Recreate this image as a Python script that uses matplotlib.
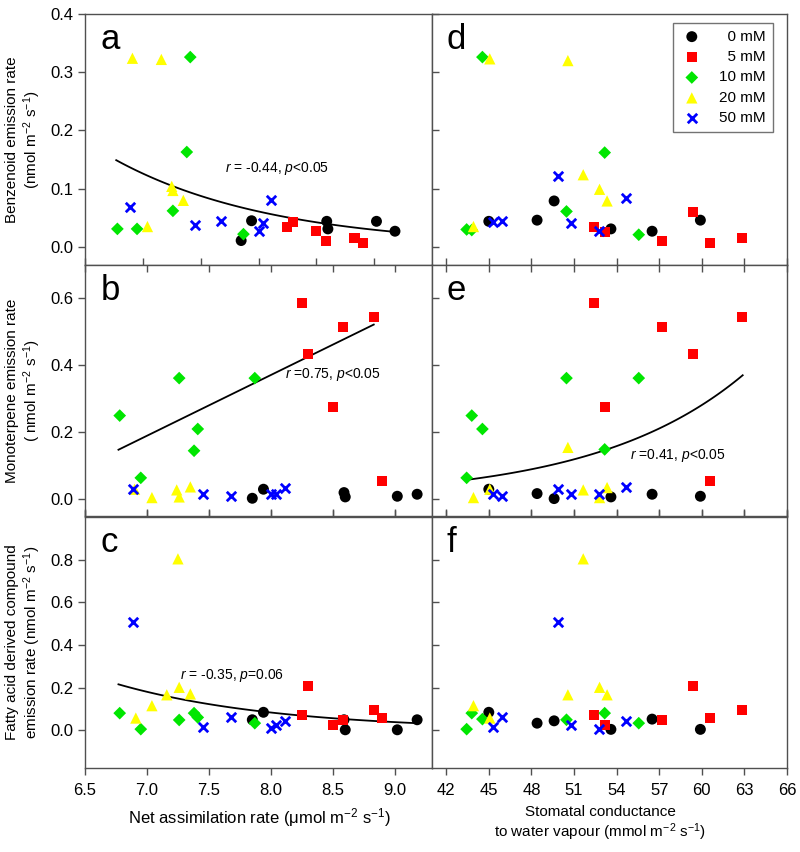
import numpy as np
import matplotlib
matplotlib.use('Agg')
import matplotlib.pyplot as plt

plt.rcParams['font.family'] = ['Liberation Sans', 'DejaVu Sans']
plt.rcParams['mathtext.fontset'] = 'custom'
plt.rcParams['mathtext.rm'] = 'Liberation Sans'
plt.rcParams['mathtext.it'] = 'Liberation Sans:italic'

groups = ['\u20070 mM', '\u20075 mM', '10 mM', '20 mM', '50 mM']

# net assimilation rate (x of left panels)
an_black = [7.85, 7.94, 8.59, 8.60, 9.02, 9.18]
an_red = [8.25, 8.30, 8.50, 8.58, 8.83, 8.90]
an_green = [6.78, 6.95, 7.26, 7.38, 7.41, 7.87]
an_yellow = [6.91, 7.04, 7.16, 7.25, 7.26, 7.35]
an_blue = [6.89, 7.45, 7.68, 8.00, 8.04, 8.11]

# stomatal conductance (x of right panels)
gs_black = [45.0, 48.4, 49.6, 53.6, 56.5, 59.9]
gs_red = [52.4, 53.2, 57.2, 59.4, 60.55, 62.85]
gs_green = [43.44, 43.8, 44.55, 50.47, 53.16, 55.56]
gs_yellow = [43.92, 45.07, 50.57, 51.65, 52.8, 53.33]
gs_blue = [45.3, 45.96, 49.87, 50.76, 52.73, 54.65]

# panel a / d : benzenoids
a_black = [0.011, 0.045, 0.044, 0.031, 0.044, 0.027]
a_red = [0.034, 0.042, 0.027, 0.011, 0.016, 0.007]
a_green = [0.031, 0.031, 0.062, 0.163, 0.326, 0.022]
a_yellow = [0.324, 0.035, 0.322, 0.104, 0.097, 0.080]
a_blue = [0.069, 0.038, 0.044, 0.027, 0.041, 0.080]

d_black = [0.044, 0.046, 0.079, 0.031, 0.027, 0.046]
d_red = [0.034, 0.026, 0.010, 0.060, 0.007, 0.015]
d_green = [0.030, 0.029, 0.326, 0.061, 0.162, 0.021]
d_yellow = [0.035, 0.323, 0.320, 0.124, 0.099, 0.079]
d_blue = [0.042, 0.044, 0.121, 0.041, 0.027, 0.084]

# panel b / e : monoterpenes
b_black = [0.003, 0.030, 0.020, 0.007, 0.009, 0.015]
b_red = [0.586, 0.433, 0.277, 0.516, 0.545, 0.056]
b_green = [0.250, 0.064, 0.362, 0.145, 0.210, 0.362]
b_yellow = [0.030, 0.005, 0.028, 0.007, 0.037]
b_an_yellow = [6.90, 7.04, 7.24, 7.26, 7.35]
b_blue = [0.030, 0.015, 0.010, 0.015, 0.017, 0.035]

e_black = [0.030, 0.017, 0.002, 0.007, 0.015, 0.009]
e_red = [0.586, 0.277, 0.516, 0.433, 0.056, 0.545]
e_green = [0.064, 0.250, 0.210, 0.362, 0.149, 0.362]
e_yellow = [0.005, 0.030, 0.155, 0.028, 0.005, 0.035]
e_blue = [0.017, 0.010, 0.030, 0.017, 0.015, 0.037]

# panel c / f : fatty acid derived compounds
c_black = [0.050, 0.085, 0.050, 0.003, 0.003, 0.050]
c_red = [0.072, 0.207, 0.025, 0.050, 0.097, 0.056]
c_green = [0.081, 0.006, 0.049, 0.081, 0.061, 0.034]
c_yellow = [0.058, 0.116, 0.167, 0.804, 0.202, 0.171]
c_blue = [0.510, 0.017, 0.061, 0.011, 0.025, 0.045]

f_black = [0.085, 0.034, 0.045, 0.005, 0.053, 0.005]
f_red = [0.072, 0.027, 0.049, 0.207, 0.056, 0.095]
f_green = [0.006, 0.081, 0.053, 0.050, 0.081, 0.034]
f_yellow = [0.116, 0.058, 0.167, 0.804, 0.202, 0.167]
f_blue = [0.017, 0.061, 0.510, 0.025, 0.009, 0.045]

# fitted trends: y = A*exp(k*x) between x0 and x1
fit_a = (0.149 * np.exp(0.727 * 6.77), -0.727, 6.77, 9.17)
fit_c = (0.216 * np.exp(0.768 * 6.77), -0.768, 6.77, 9.18)
fit_e = (0.058 * np.exp(-0.0954 * 43.44), 0.0954, 43.44, 62.88)
line_b_x = [6.77, 8.83]
line_b_y = [0.148, 0.522]

styles = [
    dict(marker='o', color='black', s=62),
    dict(marker='s', color='#ff0000', s=52),
    dict(marker='D', color='#00e600', s=42),
    dict(marker='^', color='#ffff00', s=66),
    dict(marker='x', color='#0000ff', s=46, linewidths=2),
]

fig = plt.figure(figsize=(8, 8.52), dpi=100)
L, W1, W2 = 85 / 800, 347 / 800, 355 / 800
H = 251 / 852
tops = [1 - 14 / 852, 1 - 265 / 852, 1 - 517 / 852]
axes = []
for r in range(3):
    axl = fig.add_axes([L, tops[r] - H, W1, H])
    axr = fig.add_axes([L + W1, tops[r] - H, W2, H])
    axes.append((axl, axr))

panels = [
    (axes[0][0], [an_black, an_red, an_green, an_yellow, an_blue],
     [a_black, a_red, a_green, a_yellow, a_blue]),
    (axes[0][1], [gs_black, gs_red, gs_green, gs_yellow, gs_blue],
     [d_black, d_red, d_green, d_yellow, d_blue]),
    (axes[1][0], [an_black, an_red, an_green, b_an_yellow, an_blue],
     [b_black, b_red, b_green, b_yellow, b_blue]),
    (axes[1][1], [gs_black, gs_red, gs_green, gs_yellow, gs_blue],
     [e_black, e_red, e_green, e_yellow, e_blue]),
    (axes[2][0], [an_black, an_red, an_green, an_yellow, an_blue],
     [c_black, c_red, c_green, c_yellow, c_blue]),
    (axes[2][1], [gs_black, gs_red, gs_green, gs_yellow, gs_blue],
     [f_black, f_red, f_green, f_yellow, f_blue]),
]
for ax, xs, ys in panels:
    for i, (x, y) in enumerate(zip(xs, ys)):
        st = dict(styles[i])
        if st['marker'] != 'x':
            st['edgecolors'] = 'none'
        ax.scatter(x, y, label=groups[i], zorder=3 + i, **st)

# trend lines
def draw_fit(ax, fit):
    A, k, x0, x1 = fit
    xx = np.linspace(x0, x1, 100)
    ax.plot(xx, A * np.exp(k * xx), color='black', lw=1.3, zorder=2)

draw_fit(axes[0][0], fit_a)
draw_fit(axes[2][0], fit_c)
draw_fit(axes[1][1], fit_e)
axes[1][0].plot(line_b_x, line_b_y, color='black', lw=1.3, zorder=2)

axes[0][0].text(8.16, 0.134, r'$r$ = -0.44, $p$<0.05', fontsize=10, ha='center', va='center')
axes[1][0].text(8.50, 0.373, r'$r$ =0.75, $p$<0.05', fontsize=10, ha='center', va='center')
axes[2][0].text(7.69, 0.257, r'$r$ = -0.35, $p$=0.06', fontsize=10, ha='center', va='center')
axes[1][1].text(58.3, 0.13, r'$r$ =0.41, $p$<0.05', fontsize=10, ha='center', va='center')

# limits / ticks
ylims = [(-0.031, 0.4), (-0.05, 0.7), (-0.176, 1.0)]
yticks = [np.arange(0, 0.41, 0.1), np.arange(0, 0.61, 0.2), np.arange(0, 0.81, 0.2)]
letters = [('a', 'd'), ('b', 'e'), ('c', 'f')]
ylabels = ['Benzenoid emission rate\n(nmol m$^{-2}$ s$^{-1}$)',
           'Monoterpene emission rate\n( nmol m$^{-2}$ s$^{-1}$)',
           'Fatty acid derived compound\nemission rate (nmol m$^{-2}$ s$^{-1}$)']
for r in range(3):
    axl, axr = axes[r]
    axl.set_xlim(6.5, 9.5 if r == 0 else 9.3)
    axr.set_xlim(41, 66)
    axl.set_xticks(np.arange(6.5, 9.01, 0.5))
    axr.set_xticks(np.arange(42, 67, 3))
    for ax in (axl, axr):
        ax.set_ylim(*ylims[r])
        ax.set_yticks(yticks[r])
        for sp in ax.spines.values():
            sp.set_color('#505050')
            sp.set_linewidth(1.0)
        ax.tick_params(colors='#505050', labelcolor='black', labelsize=12, width=1, length=5)
        ax.tick_params(axis='x', direction='in', top=(r > 0), bottom=(r < 2), labelbottom=False)
    axl.tick_params(axis='y', direction='out')
    axl.yaxis.set_major_formatter(matplotlib.ticker.FormatStrFormatter('%.1f'))
    axr.tick_params(axis='y', direction='in', labelleft=False)
    axl.set_ylabel(ylabels[r], fontsize=11, linespacing=1.15)
    axl.yaxis.set_label_coords(-0.122, 0.5)
    axl.text(0.045, 0.86, letters[r][0], transform=axl.transAxes, fontsize=25)
    axr.text(0.04, 0.86, letters[r][1], transform=axr.transAxes, fontsize=25)

# bottom row: labelled outward ticks
for ax in axes[2]:
    ax.tick_params(axis='x', bottom=True, direction='out', labelbottom=True, pad=6)

leg = axes[0][1].legend(loc='upper right', bbox_to_anchor=(0.96, 0.965), fontsize=11,
                        frameon=True, fancybox=False, edgecolor='#505050',
                        borderaxespad=0, labelspacing=0.42, handletextpad=1.0,
                        handlelength=1.6, borderpad=0.45, scatterpoints=1)
leg.get_frame().set_linewidth(1.0)

fig.text(259 / 800, 1 - 818 / 852, 'Net assimilation rate (μmol m$^{-2}$ s$^{-1}$)',
         fontsize=12, ha='center', va='center')
fig.text(600 / 800, 1 - 824 / 852, 'Stomatal conductance\nto water vapour (mmol m$^{-2}$ s$^{-1}$)',
         fontsize=11, ha='center', va='center', linespacing=1.2)

fig.savefig('out.png', dpi=100)
